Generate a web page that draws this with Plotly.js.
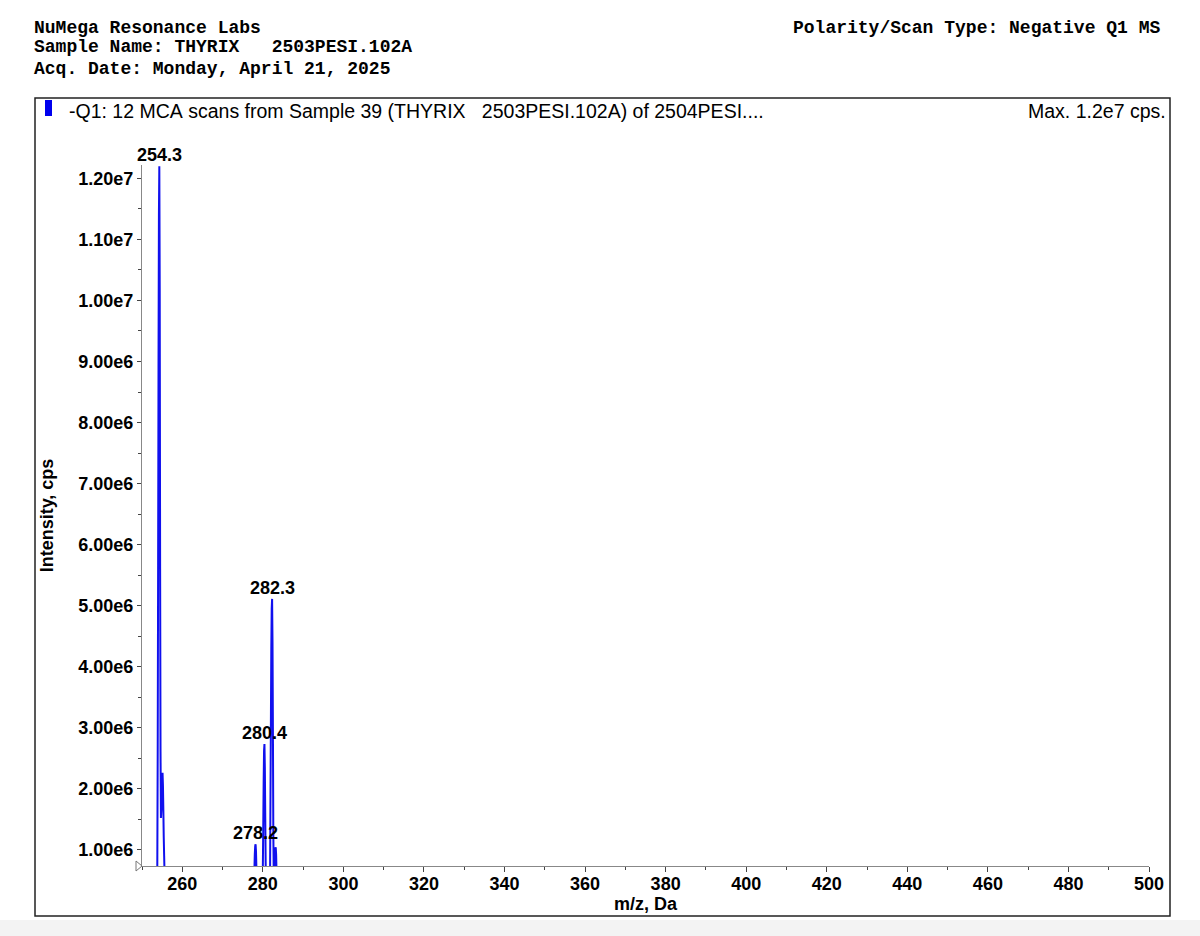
<!DOCTYPE html>
<html><head><meta charset="utf-8">
<script src="https://cdn.plot.ly/plotly-3.0.1.min.js"></script>
<style>html,body{margin:0;padding:0;background:#fff;}#chart{width:1200px;height:936px;}</style>
</head><body><div id="chart"></div>
<script>
// ---- data ----
const mz = [250.0, 253.6, 253.7, 253.8, 253.9, 254.0, 254.1, 254.2, 254.3, 254.4, 254.5, 254.6, 254.7, 254.8, 254.9, 255.0, 255.1, 255.2, 255.3, 255.4, 255.5, 255.6, 255.7, 255.8,
  277.6, 277.8, 277.9, 278.0, 278.1, 278.2, 278.3, 278.4, 278.5, 278.7,
  279.8, 279.9, 280.0, 280.1, 280.2, 280.3, 280.4, 280.5, 280.6, 280.7, 280.8, 280.9,
  281.6, 281.7, 281.8, 281.9, 282.0, 282.1, 282.2, 282.3, 282.4, 282.5, 282.6, 282.7, 282.8,
  282.9, 283.0, 283.1, 283.2, 283.3, 283.4, 283.5, 283.6, 500.0];
const intensity = [0, 0, 0.2e6, 0.75e6, 2.6e6, 5.6e6, 8.9e6, 11.4e6, 12.2e6, 10.2e6, 5.6e6, 2.6e6, 1.52e6, 1.65e6, 2.0e6, 2.22e6, 2.26e6, 2.05e6, 1.65e6, 1.2e6, 0.9e6, 0.6e6, 0.25e6, 0,
  0, 0.3e6, 0.65e6, 0.92e6, 1.06e6, 1.09e6, 0.98e6, 0.7e6, 0.35e6, 0,
  0, 0.25e6, 0.7e6, 1.35e6, 2.1e6, 2.62e6, 2.73e6, 2.35e6, 1.55e6, 0.8e6, 0.3e6, 0,
  0, 0.2e6, 0.7e6, 1.9e6, 3.1e6, 4.3e6, 4.95e6, 5.11e6, 4.4e6, 3.0e6, 1.3e6, 0.6e6, 0.45e6,
  0.6e6, 0.88e6, 1.02e6, 1.04e6, 0.92e6, 0.62e6, 0.3e6, 0, 0];
const peakLabels = ["254.3", "278.2", "280.4", "282.3"];
const peakMz = [254.3, 278.2, 280.4, 282.3];
const peakIntensity = [1.22e7, 1.09e6, 2.73e6, 5.11e6];
const xTickVals = [260, 280, 300, 320, 340, 360, 380, 400, 420, 440, 460, 480, 500];
const yTickVals = [1e6, 2e6, 3e6, 4e6, 5e6, 6e6, 7e6, 8e6, 9e6, 1e7, 1.1e7, 1.2e7];
const yTickText = ["1.00e6", "2.00e6", "3.00e6", "4.00e6", "5.00e6", "6.00e6", "7.00e6", "8.00e6", "9.00e6", "1.00e7", "1.10e7", "1.20e7"];
const headerLeft = ["NuMega Resonance Labs", "Sample Name: THYRIX   2503PESI.102A", "Acq. Date: Monday, April 21, 2025"];
const headerRight = "Polarity/Scan Type: Negative Q1 MS";
const legendText = "-Q1: 12 MCA scans from Sample 39 (THYRIX   2503PESI.102A) of 2504PESI....";
const maxText = "Max. 1.2e7 cps.";
const xTitle = "m/z, Da";
const yTitle = "Intensity, cps";

// ---- layout geometry ----
const W = 1200, H = 936, L = 142, R = 51, T = 165, B = 70;
const pw = W - L - R, ph = H - T - B;
const fx = x => (x - L) / pw;
const fy = y => (H - B - y) / ph;
const nb = s => s.replace(/ /g, "\u00a0");
const sans = "Liberation Sans, Arial, sans-serif";
const mono = "Liberation Mono, Courier New, monospace";

const annotations = [];
peakLabels.forEach((t, i) => annotations.push({
  x: peakMz[i], y: peakIntensity[i], xref: "x", yref: "y", text: t, showarrow: false,
  xanchor: "center", yanchor: "bottom", yshift: -1,
  font: {family: sans, size: 18, weight: 700, color: "#000"}
}));
const headerY = [28, 47, 69];
headerLeft.forEach((t, i) => annotations.push({
  x: fx(34), y: fy(headerY[i]), xref: "paper", yref: "paper", text: nb(t), showarrow: false,
  xanchor: "left", yanchor: "middle", borderpad: 0, borderwidth: 0,
  font: {family: mono, size: 18, weight: 700, color: "#000"}
}));
annotations.push({x: fx(1160), y: fy(28), xref: "paper", yref: "paper", text: nb(headerRight), showarrow: false,
  xanchor: "right", yanchor: "middle", borderpad: 0, borderwidth: 0,
  font: {family: mono, size: 18, weight: 700, color: "#000"}});
annotations.push({x: fx(67), y: fy(111), xref: "paper", yref: "paper", text: nb(legendText), showarrow: false,
  xanchor: "left", yanchor: "middle", font: {family: sans, size: 19.5, color: "#000"}});
annotations.push({x: fx(1168), y: fy(111), xref: "paper", yref: "paper", text: maxText, showarrow: false,
  xanchor: "right", yanchor: "middle", font: {family: sans, size: 19.5, color: "#000"}});

const shapes = [
  {type: "rect", xref: "paper", yref: "paper", x0: fx(35), x1: fx(1170), y0: fy(98), y1: fy(916),
   line: {color: "#222", width: 1.5}, fillcolor: "rgba(0,0,0,0)", layer: "below"},
  {type: "rect", xref: "paper", yref: "paper", x0: fx(45), x1: fx(52), y0: fy(100), y1: fy(116),
   line: {width: 0}, fillcolor: "#0000ee"},
  {type: "rect", xref: "paper", yref: "paper", x0: fx(0), x1: fx(1200), y0: fy(920), y1: fy(936),
   line: {width: 0}, fillcolor: "#f3f3f3", layer: "below"},
  {type: "path", xref: "paper", yref: "paper", xsizemode: "pixel", ysizemode: "pixel", xanchor: 0, yanchor: 0,
   path: "M -6,5 L 0,0 L -6,-5 Z", line: {color: "#777", width: 1}, fillcolor: "#fff"}
];

const trace = {
  x: mz, y: intensity, type: "scatter", mode: "lines",
  line: {color: "#1010ee", width: 2, simplify: false}, hoverinfo: "x+y", showlegend: false
};

const axisFont = {family: sans, size: 18, weight: 700, color: "#000"};
const layout = {
  width: W, height: H, margin: {l: L, r: R, t: T, b: B, pad: 0},
  paper_bgcolor: "#fff", plot_bgcolor: "#fff", showlegend: false,
  xaxis: {
    range: [250, 500], autorange: false, tickmode: "array", tickvals: xTickVals,
    ticks: "outside", ticklen: 5, tickwidth: 1, tickcolor: "#444", ticklabelstandoff: -4,
    minor: {dtick: 10, tick0: 0, ticks: "outside", ticklen: 3, tickcolor: "#444", showgrid: false},
    showline: true, linecolor: "#888", linewidth: 1, showgrid: false, zeroline: false,
    tickfont: axisFont, title: {text: xTitle, font: axisFont, standoff: 4}
  },
  yaxis: {
    range: [7.33e5, 1.222e7], autorange: false, tickmode: "array", tickvals: yTickVals, ticktext: yTickText,
    ticks: "outside", ticklen: 4, tickwidth: 1, tickcolor: "#444",
    minor: {dtick: 5e5, tick0: 0, ticks: "outside", ticklen: 3, tickcolor: "#444", showgrid: false},
    showline: true, linecolor: "#888", linewidth: 1, showgrid: false, zeroline: false,
    tickfont: axisFont, title: {text: yTitle, font: axisFont, standoff: 20}
  },
  annotations: annotations, shapes: shapes
};
Plotly.newPlot("chart", [trace], layout, {staticPlot: true, displayModeBar: false});
</script></body></html>
